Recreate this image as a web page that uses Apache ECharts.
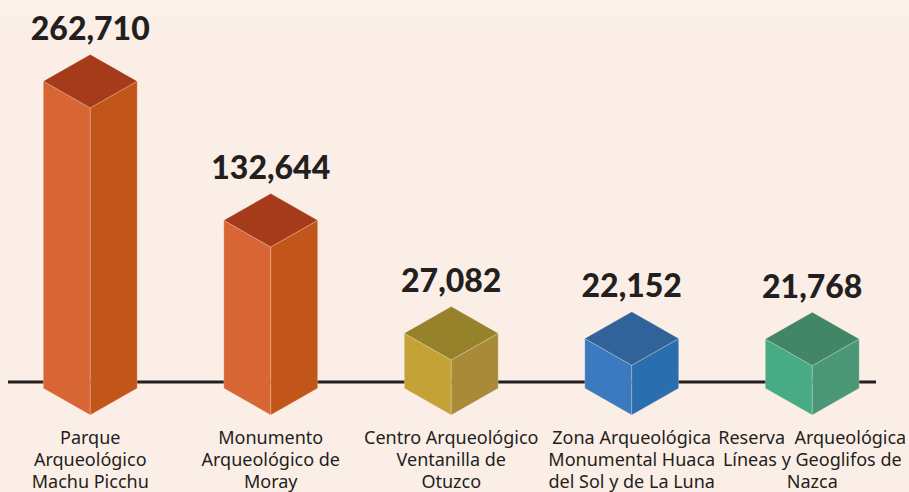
<!DOCTYPE html>
<html>
<head>
<meta charset="utf-8">
<script src="https://cdn.jsdelivr.net/npm/echarts@6/dist/echarts.min.js"></script>
<style>
html,body{margin:0;padding:0;background:#FBEEE7;}
#c{width:909px;height:492px;}
</style>
</head>
<body>
<div id="c"></div>
<script>
const categories = [
  "Parque\nArqueológico\nMachu Picchu",
  "Monumento\nArqueológico de\nMoray",
  "Centro Arqueológico\nVentanilla de\nOtuzco",
  "Zona Arqueológica\nMonumental Huaca\ndel Sol y de La Luna",
  "Reserva  Arqueológica\nLíneas y Geoglifos de\nNazca"
];
const visitors = [262710, 132644, 27082, 22152, 21768];
const frontColors = ["#D86634", "#D86634", "#C4A236", "#3C7ABF", "#47AB86"];
const sideColors  = ["#C2561A", "#C2561A", "#A98A38", "#2A6EAD", "#4B9878"];
const topColors   = ["#A63B1B", "#A63B1B", "#95822A", "#2F6399", "#418767"];

const chart = echarts.init(document.getElementById('c'), null, {renderer: 'svg'});

function fmt(v){ return v.toLocaleString('en-US'); }

function renderItem(params, api){
  const idx = api.value(0);
  const val = api.value(1);
  const p = api.coord([idx, val]);
  const p0 = api.coord([idx, 0]);
  const band = api.size([1, 0])[0];
  const hw = band * 0.26;
  const dh = hw * 0.57;
  const cx = p[0], yv = p[1];
  const yb = p0[1] + 26;
  const stroke = 'rgba(255,235,220,0.45)';
  return {
    type: 'group',
    children: [
      {type:'polygon', shape:{points:[[cx-hw,yv-dh],[cx,yv],[cx,yb],[cx-hw,yb-dh]]},
        style:{fill:frontColors[idx], stroke:stroke, lineWidth:0.6}},
      {type:'polygon', shape:{points:[[cx,yv],[cx+hw,yv-dh],[cx+hw,yb-dh],[cx,yb]]},
        style:{fill:sideColors[idx], stroke:stroke, lineWidth:0.6}},
      {type:'polygon', shape:{points:[[cx-hw,yv-dh],[cx,yv-2*dh],[cx+hw,yv-dh],[cx,yv]]},
        style:{fill:topColors[idx], stroke:stroke, lineWidth:0.6}},
      {type:'text', x: cx, y: yv - 2*dh - 27,
        style:{text: fmt(val), fill:'#231F20', font:'900 32px Lato', align:'center', verticalAlign:'middle'}}
    ]
  };
}

chart.setOption({
  backgroundColor: '#FBEEE7',
  animation: false,
  graphic: [
    {type:'rect', z:-10, shape:{x:0,y:0,width:909,height:17}, style:{fill:'#FBF2EC'}},
    {type:'line', z:0, shape:{x1:8,y1:382,x2:876,y2:382}, style:{stroke:'#231F20', lineWidth:3}}
  ],
  grid: {left: -10, width: 912.5, top: 68, bottom: 103},
  xAxis: {
    type: 'category',
    data: categories,
    axisLine: {show:false},
    axisTick: {show:false},
    axisLabel: {margin: 37, fontFamily:'Noto Sans', fontSize:18, lineHeight:22, color:'#231F20', interval:0, align:'center'}
  },
  yAxis: {
    type: 'value', min: 0, max: 300000, show: false
  },
  series: [{
    type: 'custom',
    renderItem: renderItem,
    data: visitors.map((v,i)=>[i, v]),
    encode: {x:0, y:1},
    z: 5
  }]
});
</script>
</body>
</html>
